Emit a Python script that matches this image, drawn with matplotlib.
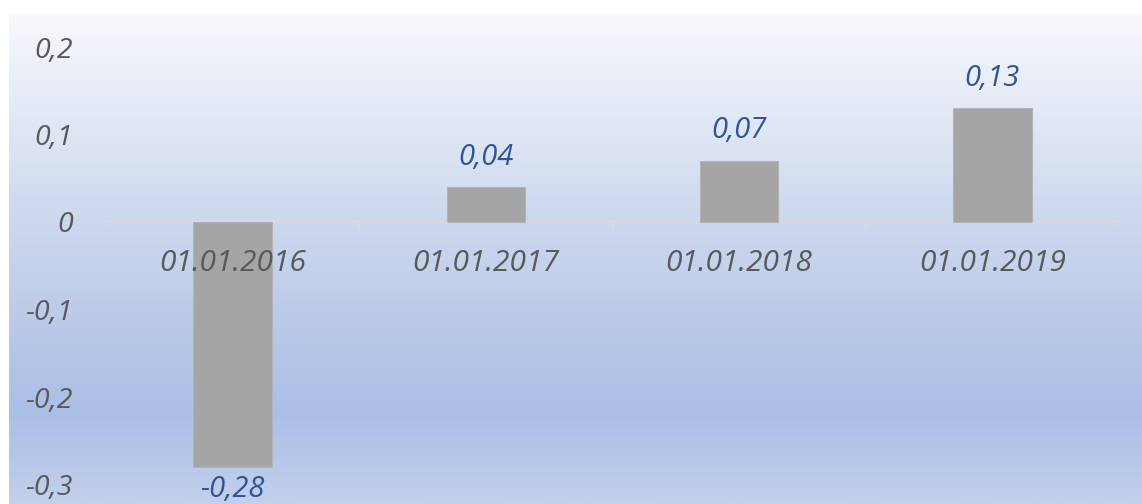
import matplotlib
matplotlib.use("Agg")
import matplotlib.pyplot as plt
import numpy as np
from matplotlib.colors import LinearSegmentedColormap

# Datos
categories = ['01.01.2016', '01.01.2017', '01.01.2018', '01.01.2019']
values = [-0.28, 0.04, 0.07, 0.13]
y_ticks = [0.2, 0.1, 0, -0.1, -0.2, -0.3]
y_tick_labels = ['0,2', '0,1', '0', '-0,1', '-0,2', '-0,3']

W, H = 1142, 504
fig = plt.figure(figsize=(W / 100, H / 100), dpi=100)
fig.patch.set_facecolor('white')

plt.rcParams['font.family'] = ['Open Sans', 'DejaVu Sans']

# Fondo degradado (panel)
bg = fig.add_axes([9 / W, 0, 1 - 9 / W, (H - 15) / H])
bg.set_axis_off()
stops = [(0.0, '#f7f8fc'), ((222 - 15) / 489, '#ccd8ee'), ((300 - 15) / 489, '#bfcde9'),
         ((413 - 15) / 489, '#abbee6'), (1.0, '#c2d0eb')]
cmap = LinearSegmentedColormap.from_list('bg', stops)
grad = np.linspace(0, 1, 512).reshape(-1, 1)
bg.imshow(grad, aspect='auto', cmap=cmap, extent=[0, 1, 0, 1], origin='upper')
bg.set_xlim(0, 1)
bg.set_ylim(0, 1)

# Ejes principales
ax = fig.add_axes([106 / W, (H - 484.5) / H, (1119 - 106) / W, (484.5 - 47) / H])
ax.set_facecolor('none')
x = np.arange(len(categories))
ax.bar(x, values, width=0.31, color='#a5a5a5', edgecolor='#b4b4b4', linewidth=0.8, zorder=3)
ax.set_xlim(-0.5, len(categories) - 0.5)
ax.set_ylim(-0.3, 0.2)

for s in ax.spines.values():
    s.set_visible(False)

# Línea de cero y marcas
ax.axhline(0, color='#d9d9d9', lw=1.5, zorder=2)
ax.vlines(np.arange(len(categories) + 1) - 0.5, -0.009, 0, color='#d9d9d9', lw=1.5, zorder=2)

ax.set_xticks([])
ax.set_yticks(y_ticks)
ax.set_yticklabels(y_tick_labels, fontsize=20.5, style='italic', color='#595959')
ax.tick_params(axis='y', length=0, pad=24)

# Etiquetas de categoría
for i, c in enumerate(categories):
    ax.text(i, -0.047, c, ha='center', va='center', fontsize=21.5, style='italic',
            color='#595959', zorder=4)

# Etiquetas de datos
for i, v in enumerate(values):
    label = ('%.2f' % v).replace('.', ',')
    if v >= 0:
        ax.text(i, v + 0.034, label, ha='center', va='center', fontsize=21,
                style='italic', color='#2f5597', zorder=4)
    else:
        ax.text(i, v - 0.026, label, ha='center', va='center', fontsize=21,
                style='italic', color='#2f5597', zorder=4, clip_on=False)

fig.savefig('out.png', dpi=100)
